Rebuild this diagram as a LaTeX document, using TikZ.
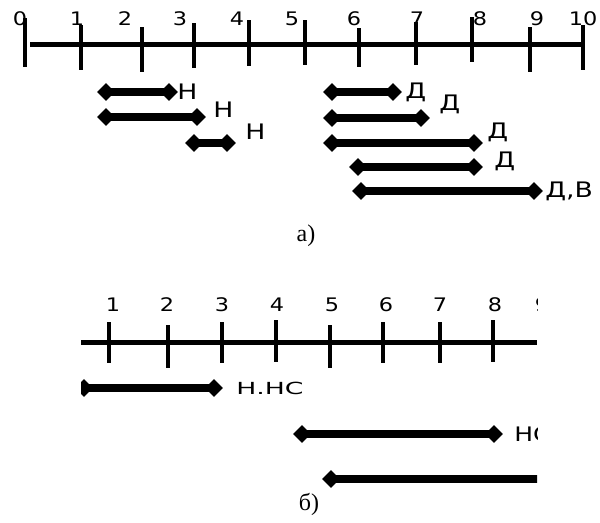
\documentclass[tikz,border=0pt]{standalone}
\usepackage{fontspec}
\setmainfont{Liberation Serif}
\newfontfamily\labfont[FakeStretch=1.25]{DejaVu Sans}
\newfontfamily\numfont[FakeStretch=1.2]{DejaVu Sans}
\newfontfamily\labbfont[FakeStretch=1.6]{DejaVu Sans}
\usetikzlibrary{shapes.geometric}
\begin{document}
\begin{tikzpicture}[x=0.75pt,y=-0.75pt,
 dia/.style={diamond,fill=black,draw=none,inner sep=0pt,minimum width=13.5pt,minimum height=13.5pt},
 bar/.style={line width=6.5pt},
 axisline/.style={line width=3.75pt},
 tickline/.style={line width=3pt},
 num/.style={font=\numfont\fontsize{14}{14}\selectfont,inner sep=0pt},
 lbl/.style={font=\labfont\fontsize{16}{16}\selectfont,inner sep=0pt,anchor=base west},
 lblb/.style={font=\labbfont\fontsize{12.5}{12.5}\selectfont,inner sep=0pt,anchor=base west},
 lblc/.style={font=\labfont\fontsize{15}{15}\selectfont,inner sep=0pt,anchor=base west},
 capt/.style={font=\fontsize{18}{18}\selectfont,inner sep=0pt}]
\useasboundingbox (0,0) rectangle (600,522);
% ---------------- part a ----------------
\coordinate (axA0) at (30,44);
\coordinate (axA1) at (583,44);
\draw[axisline] (axA0) -- (axA1);
\foreach \x/\a/\b [count=\i from 0] in {25/18/67,81/25/70,142/27/72,194/23/68,249/20/66,305/20/65,359/28/67,416/22/65,472/17/62,530/27/72,583/25/70}{
  \coordinate (ta\i) at (\x,\a);
  \coordinate (tb\i) at (\x,\b);
  \draw[tickline] (ta\i) -- (tb\i);
}
\foreach \x/\t in {20/0,77/1,125/2,180/3,237/4,292/5,354/6,417/7,480/8,537/9,583/10}{
  \node[num] (na\t) at (\x,19) {\t};
}
% bars a
\foreach \l/\r/\y/\n in {106/169/92/1,106/197/117/2,194/227/143/3,332/393/92/4,332/421/118/5,332/474/143/6,358/474/167/7,361/534/191/8}{
  \node[dia] (al\n) at (\l,\y) {};
  \node[dia] (ar\n) at (\r,\y) {};
  \draw[bar] (al\n.center) -- (ar\n.center);
}
\node[lbl] (la1) at (177,99) {Н};
\node[lbl] (la2) at (213,117) {Н};
\node[lbl] (la3) at (245,139) {Н};
\node[lbl] (la4) at (405,98) {Д};
\node[lbl] (la5) at (439,110) {Д};
\node[lbl] (la6) at (487,138) {Д};
\node[lbl] (la7) at (494,167) {Д};
\node[lbl] (la8) at (545,197) {Д,В};
\node[capt] (capa) at (306,236) {а)};
% ---------------- part b ----------------
\begin{scope}
\clip (81,280) rectangle (537,495);
\coordinate (axB0) at (81,342);
\coordinate (axB1) at (537,342);
\draw[axisline] (axB0) -- (axB1);
\foreach \x/\t in {113/1,167/2,222/3,277/4,332/5,386/6,440/7,495/8,542/9}{
  \node[num] (nb\t) at (\x,305) {\t};
}
\foreach \x/\a/\b [count=\i from 1] in {109/322/363,168/325/368,222/322/363,276/320/362,330/325/368,383/322/363,440/322/363,493/320/362}{
  \coordinate (sa\i) at (\x,\a);
  \coordinate (sb\i) at (\x,\b);
  \draw[tickline] (sa\i) -- (sb\i);
}
\node[dia] (bl1) at (84,388) {};
\node[dia] (br1) at (214,388) {};
\draw[bar] (bl1.center) -- (br1.center);
\node[dia] (bl2) at (302,434) {};
\node[dia] (br2) at (494,434) {};
\draw[bar] (bl2.center) -- (br2.center);
\node[dia] (bl3) at (331,479) {};
\coordinate (br3) at (560,479);
\draw[bar] (bl3.center) -- (br3);
\node[lblb] (lb1) at (236,394) {Н.НС};
\node[lblc] (lb2) at (514,441) {НС};
\end{scope}
\node[capt] (capb) at (309,504) {б)};
\end{tikzpicture}
\end{document}
